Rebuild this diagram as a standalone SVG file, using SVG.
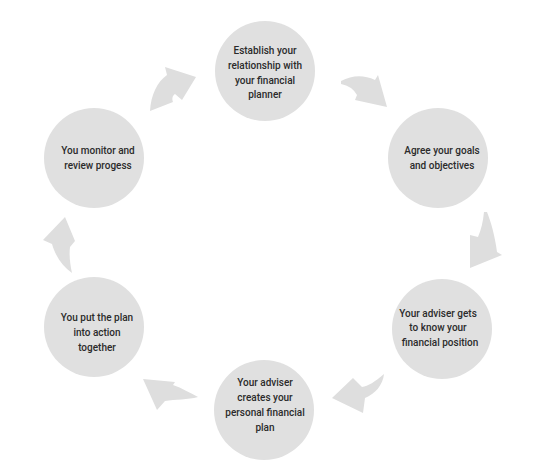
<svg xmlns="http://www.w3.org/2000/svg" width="536" height="473" viewBox="0 0 536 473">
<style>
.c{fill:#e0e0e0}
.a{fill:#dedede}
text{font-family:Roboto,"Liberation Sans",sans-serif;font-size:10px;font-weight:500;fill:#2b2b2b;text-anchor:middle}
</style>
<rect width="536" height="473" fill="#ffffff"/>
<g id="connectors">
<path class="a" d="M150,111 C151,95 157,82 167,75 L165,67 L196,77 L182,100 L175,94 C172,96 172,99 173,102 Z"/>
<path class="a" d="M341,81 Q358,72 375,80 L378,75 L387,107 L355,100 L357,95 Q352,86 341,84 Z"/>
<path class="a" d="M484,212 L487,212 C491,222 495,236 497,252 L502,255 L470,268 L470,235 L478,237 C481,230 483,222 484,212 Z"/>
<path class="a" d="M384,374 C383,385 375,394 365,398 L363,413 L332,398 L353,378 L362,387 C368,386 375,382 384,374 Z"/>
<path class="a" d="M143,379 L175,382 L173,385 C182,388 190,393 198,397 C188,400 175,399 165,401 L157,410 Z"/>
<path class="a" d="M65,217 L75,241 L70,247 C69,255 70,264 72,273 C62,266 55,255 52,244 L43,240 Z"/>
</g>
<g id="n1"><circle class="c" cx="265" cy="71" r="50"/>
<text x="265" y="54">Establish your</text><text x="265" y="69">relationship with</text><text x="265" y="84">your financial</text><text x="265" y="98">planner</text></g>
<g id="n2"><circle class="c" cx="438" cy="158" r="50"/>
<text x="442" y="154">Agree your goals</text><text x="442" y="169">and objectives</text></g>
<g id="n3"><circle class="c" cx="442" cy="329" r="50"/>
<text x="438" y="317">Your adviser gets</text><text x="438" y="331">to know your</text><text x="440" y="346">financial position</text></g>
<g id="n4"><circle class="c" cx="264" cy="410" r="50"/>
<text x="265" y="386">Your adviser</text><text x="265" y="401">creates your</text><text x="265" y="416">personal financial</text><text x="265" y="431">plan</text></g>
<g id="n5"><circle class="c" cx="94" cy="327" r="50"/>
<text x="97" y="321">You put the plan</text><text x="97" y="336">into action</text><text x="97" y="351">together</text></g>
<g id="n6"><circle class="c" cx="94" cy="158" r="50"/>
<text x="98" y="154">You monitor and</text><text x="98" y="169">review progess</text></g>
</svg>
